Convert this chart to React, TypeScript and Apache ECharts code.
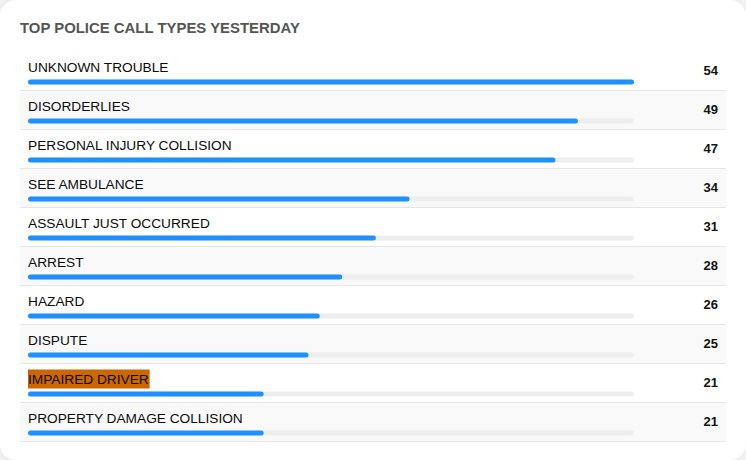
import React, { useEffect, useRef } from "react";
import * as echarts from "echarts";

const titleText = "TOP POLICE CALL TYPES YESTERDAY";
const categories = [
  "UNKNOWN TROUBLE",
  "DISORDERLIES",
  "PERSONAL INJURY COLLISION",
  "SEE AMBULANCE",
  "ASSAULT JUST OCCURRED",
  "ARREST",
  "HAZARD",
  "DISPUTE",
  "IMPAIRED DRIVER",
  "PROPERTY DAMAGE COLLISION",
];
const values = [54, 49, 47, 34, 31, 28, 26, 25, 21, 21];
const highlighted = ["IMPAIRED DRIVER"];

const FONT = "'Liberation Sans', Arial, Helvetica, sans-serif";

export default function App() {
  const ref = useRef<HTMLDivElement>(null);
  useEffect(() => {
    if (!ref.current) return;
    const chart = echarts.init(ref.current, undefined, { renderer: "svg" });
    const maxVal = Math.max(...values);
    const option: any = {
      animation: false,
      backgroundColor: "#f2f2f2",
      textStyle: { fontFamily: FONT },
      graphic: [
        {
          type: "rect",
          z: -100,
          shape: { x: 0, y: 0, width: 746, height: 460, r: 16 },
          style: { fill: "#ffffff", shadowBlur: 4, shadowColor: "rgba(0,0,0,0.06)" },
        },
        {
          type: "text",
          x: 20,
          y: 28,
          scaleX: 1.065,
          style: {
            text: titleText,
            font: `bold 14px ${FONT}`,
            fill: "#555555",
            verticalAlign: "middle",
            align: "left",
          },
        },
      ],
      grid: [
        { left: 28, top: 62.5, width: 606, height: 390 },
        { left: 20, top: 51, width: 706, height: 390 },
      ],
      xAxis: [
        { gridIndex: 0, type: "value", min: 0, max: maxVal, show: false },
        { gridIndex: 1, type: "value", min: 0, max: 1, show: false },
      ],
      yAxis: [
        { gridIndex: 0, type: "category", data: categories, inverse: true, show: false },
        {
          gridIndex: 1,
          type: "category",
          data: categories,
          inverse: true,
          axisLine: { show: false },
          axisTick: { show: false },
          axisLabel: { show: false },
          splitLine: { show: true, showMinLine: false, showMaxLine: true, lineStyle: { color: "#e6e6e6", width: 1 } },
          splitArea: { show: true, areaStyle: { color: ["#ffffff", "#f9f9f9"] } },
        },
        {
          gridIndex: 1,
          type: "category",
          position: "right",
          data: values.map(String),
          inverse: true,
          axisLine: { show: false },
          axisTick: { show: false },
          splitLine: { show: false },
          axisLabel: {
            inside: true,
            margin: 8,
            fontWeight: "bold",
            fontSize: 13,
            color: "#111111",
            fontFamily: FONT,
          },
        },
      ],
      series: [
        {
          type: "bar",
          xAxisIndex: 0,
          yAxisIndex: 0,
          barWidth: 5,
          showBackground: true,
          backgroundStyle: { color: "#eeeeee", borderRadius: 3 },
          itemStyle: { color: "#1e90ff", borderRadius: 3 },
          label: {
            show: true,
            position: [0, -12.5],
            align: "left",
            verticalAlign: "middle",
            formatter: (p: any) => p.name,
            fontSize: 13.7,
            color: "#0a0a0a",
            fontFamily: FONT,
          },
          data: values.map((v, i) => {
            const item: any = { value: v };
            if (highlighted.includes(categories[i])) {
              item.label = {
                backgroundColor: "#cc6600",
                padding: [3, 1, 2, 0],
              };
            }
            return item;
          }),
        },
      ],
    };
    chart.setOption(option);
    return () => chart.dispose();
  }, []);
  return (
    <div
      ref={ref}
      style={{ position: "absolute", left: 0, top: 0, width: 746, height: 460 }}
    />
  );
}
